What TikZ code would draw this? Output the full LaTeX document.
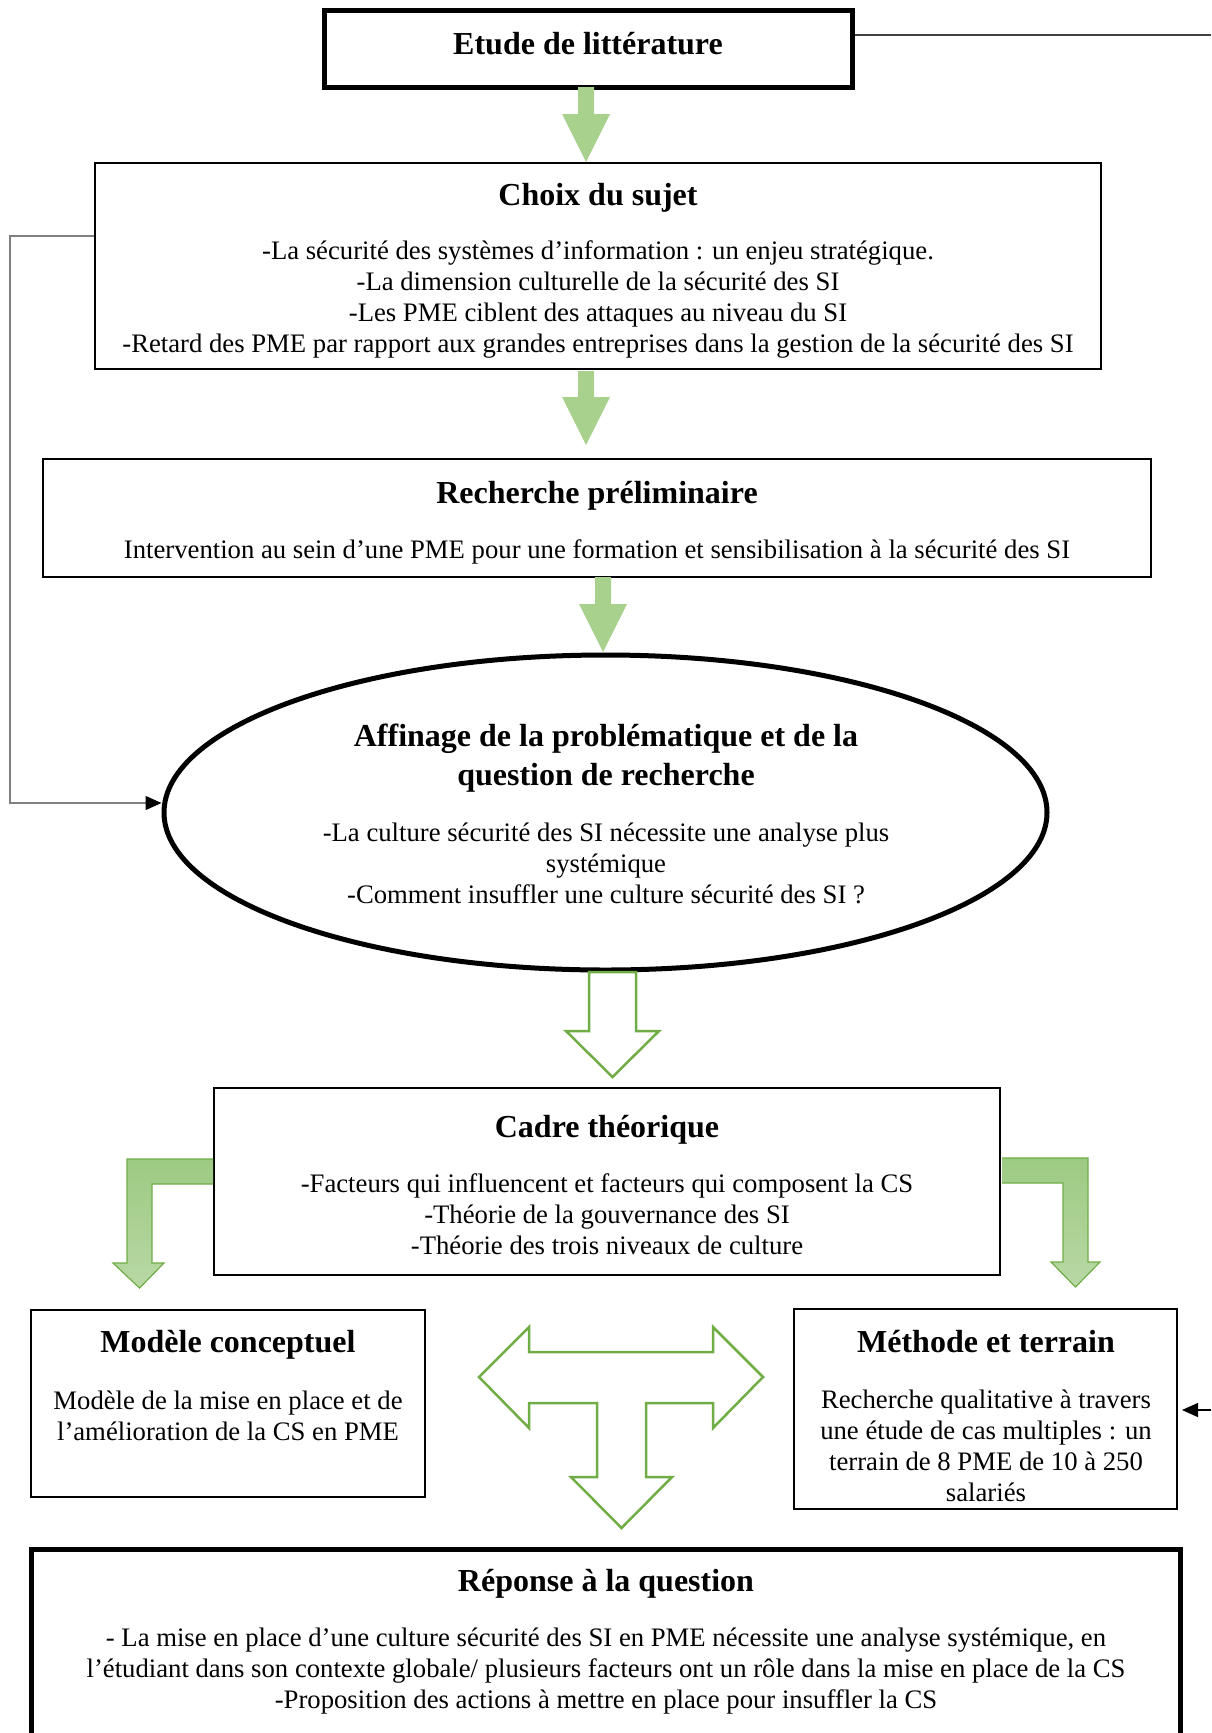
\documentclass[tikz,border=0pt]{standalone}
\usepackage{fontspec}
\setmainfont{Liberation Serif}
\usetikzlibrary{shapes.geometric,arrows.meta}
\definecolor{afill}{HTML}{A9D18E}
\definecolor{agreen}{HTML}{70AD47}
\definecolor{gtop}{HTML}{9DCA83}
\definecolor{gbot}{HTML}{B8D8A4}
\definecolor{conn}{HTML}{808080}
\definecolor{topline}{HTML}{404040}
\begin{document}
\begin{tikzpicture}[x=1pt,y=-1pt,
  box/.style={draw,line width=2pt,inner sep=0pt},
  thickbox/.style={draw,line width=5pt,inner sep=0pt},
  ttl/.style={font=\bfseries\fontsize{32}{38.5}\selectfont,inner sep=0pt,align=center},
  body/.style={font=\fontsize{26.7}{31}\selectfont,inner sep=0pt,align=center},
  solidarrow/.style={fill=afill,draw=none},
  outarrow/.style={draw=agreen,line width=2.5pt,fill=white,line join=miter},
  bentarrow/.style={draw=agreen,line width=1.2pt,line join=miter},
  linkline/.style={draw=conn,line width=1.3pt},
  tip/.style={-{Triangle[length=16pt,width=14pt,color=black,fill=black]}}
]
\useasboundingbox (0,0) rectangle (1211,1733);

% boxes
\node[thickbox,minimum width=528pt,minimum height=77pt] (etude) at (588,48.5) {};
\node[box,minimum width=1006pt,minimum height=206pt] (choix) at (598,266) {};
\node[box,minimum width=1108pt,minimum height=118pt] (rech) at (597,518) {};
\node[thickbox,ellipse,minimum width=883pt,minimum height=315pt] (aff) at (605.5,812.5) {};
\node[box,line width=2.5pt,minimum width=786pt,minimum height=187pt] (cadre) at (607,1181.5) {};
\node[box,minimum width=394pt,minimum height=187pt] (mod) at (228,1403.5) {};
\node[box,minimum width=383pt,minimum height=200pt] (meth) at (985.5,1409) {};
\node[thickbox,minimum width=1149pt,minimum height=211pt] (rep) at (605.5,1654.5) {};

% texts
\node[ttl] (t1) at (588,44) {Etude de littérature};
\node[ttl] (t2) at (598,197.5) {Choix du sujet};
\node[body] (b2) at (598,299.5) {-La sécurité des systèmes d’information : un enjeu stratégique.\\-La dimension culturelle de la sécurité des SI\\-Les PME ciblent des attaques au niveau du SI\\-Retard des PME par rapport aux grandes entreprises dans la gestion de la sécurité des SI};
\node[ttl] (t3) at (597,495.5) {Recherche préliminaire};
\node[body] (b3) at (597,552) {Intervention au sein d’une PME pour une formation et sensibilisation à la sécurité des SI};
\node[ttl] (t4) at (606,758) {Affinage de la problématique et de la\\question de recherche};
\node[body] (b4) at (606,863) {-La culture sécurité des SI nécessite une analyse plus\\systémique\\-Comment insuffler une culture sécurité des SI ?};
\node[ttl] (t5) at (607,1129.5) {Cadre théorique};
\node[body] (b5) at (607,1214) {-Facteurs qui influencent et facteurs qui composent la CS\\-Théorie de la gouvernance des SI\\-Théorie des trois niveaux de culture};
\node[ttl] (t6) at (228,1344.5) {Modèle conceptuel};
\node[body] (b6) at (228,1416) {Modèle de la mise en place et de\\l’amélioration de la CS en PME};
\node[ttl] (t7) at (986,1342) {Méthode et terrain};
\node[body] (b7) at (986,1446) {Recherche qualitative à travers\\une étude de cas multiples : un\\terrain de 8 PME de 10 à 250\\salariés};
\node[ttl] (t8) at (606,1583.5) {Réponse à la question};
\node[body] (b8) at (606,1671) {- La mise en place d’une culture sécurité des SI en PME nécessite une analyse systémique, en\\l’étudiant dans son contexte globale/ plusieurs facteurs ont un rôle dans la mise en place de la CS\\-Proposition des actions à mettre en place pour insuffler la CS};

% solid green arrows
\path[solidarrow] (578,87) -- (594,87) -- (594,114) -- (610,114) -- (586,162) -- (562,114) -- (578,114) -- cycle;
\path[solidarrow] (578,371) -- (594,371) -- (594,397) -- (610,397) -- (586,445) -- (562,397) -- (578,397) -- cycle;
\path[solidarrow] (595,577) -- (611,577) -- (611,604) -- (627,604) -- (603,652) -- (579,604) -- (595,604) -- cycle;

% outline arrow
\path[outarrow] (589,972) -- (636,972) -- (636,1031) -- (659,1031) -- (612.5,1077) -- (566,1031) -- (589,1031) -- cycle;

% bent arrows
\shade[top color=gtop,bottom color=gbot] (213,1159) -- (127,1159) -- (127,1263) -- (113,1263) -- (139.5,1288) -- (164,1263) -- (152,1263) -- (152,1184) -- (213,1184) -- cycle;
\path[bentarrow] (213,1159) -- (127,1159) -- (127,1263) -- (113,1263) -- (139.5,1288) -- (164,1263) -- (152,1263) -- (152,1184) -- (213,1184);
\shade[top color=gtop,bottom color=gbot] (1002,1158) -- (1088,1158) -- (1088,1262) -- (1100,1262) -- (1075.5,1287) -- (1051,1262) -- (1063,1262) -- (1063,1183) -- (1002,1183) -- cycle;
\path[bentarrow] (1002,1158) -- (1088,1158) -- (1088,1262) -- (1100,1262) -- (1075.5,1287) -- (1051,1262) -- (1063,1262) -- (1063,1183) -- (1002,1183);

% T arrow
\path[outarrow,fill=none] (479,1377) -- (529,1327) -- (529,1352) -- (713,1352) -- (713,1327) -- (763,1377) -- (713,1428) -- (713,1403) -- (646,1403) -- (646,1477) -- (672,1477) -- (621.5,1528) -- (571,1477) -- (597,1477) -- (597,1403) -- (529,1403) -- (529,1428) -- cycle;

% connectors
\coordinate (rEnd) at (1211,35);
\draw[draw=topline,line width=1.3pt] (etude.east |- rEnd) -- (rEnd);
\coordinate (lcorner1) at (10,236);
\coordinate (lcorner2) at (10,803);
\draw[linkline,tip] (choix.west |- lcorner1) -- (lcorner1) -- (lcorner2) -- (aff.west |- lcorner2);
\coordinate (rStart) at (1211,1410);
\draw[draw=black,line width=1.3pt,tip,shorten >=4pt] (rStart) -- (meth.east |- rStart);
\end{tikzpicture}
\end{document}
